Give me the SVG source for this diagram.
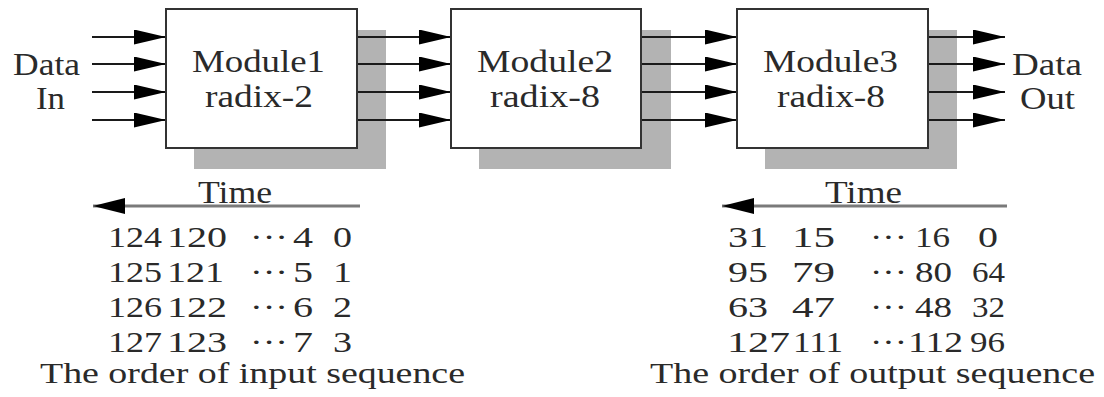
<svg xmlns="http://www.w3.org/2000/svg" width="1104" height="397" viewBox="0 0 1104 397">
<style>
text{font-family:"Liberation Serif","Times New Roman",serif;fill:#2a2a2a}
.lbl{font-size:32px}
.num{font-size:30px}
.shadow{fill:#b3b3b3}
.box{fill:#fff;stroke:#333;stroke-width:2}
.conn{stroke:#1a1a1a;stroke-width:2;fill:none}
.time{stroke:#7a7a7a;stroke-width:3;fill:none}
</style>
<defs>
<marker id="ah" markerUnits="userSpaceOnUse" markerWidth="32" markerHeight="15" refX="32" refY="7.5" orient="auto">
<path d="M0,0 L32,7.5 L0,15 Z" fill="#000"/>
</marker>
<marker id="th" markerUnits="userSpaceOnUse" markerWidth="32" markerHeight="16" refX="32" refY="8" orient="auto">
<path d="M0,0 L32,8 L0,16 Z" fill="#000"/>
</marker>
</defs>
<rect width="1104" height="397" fill="#fff"/>

<g id="shadows">
<rect class="shadow" x="194" y="30" width="192" height="139"/>
<rect class="shadow" x="479" y="30" width="192" height="139"/>
<rect class="shadow" x="765" y="30" width="192" height="139"/>
</g>

<g id="connectors">
<line class="conn" x1="92" y1="37" x2="166" y2="37" marker-end="url(#ah)"/>
<line class="conn" x1="92" y1="64" x2="166" y2="64" marker-end="url(#ah)"/>
<line class="conn" x1="92" y1="92" x2="166" y2="92" marker-end="url(#ah)"/>
<line class="conn" x1="92" y1="120" x2="166" y2="120" marker-end="url(#ah)"/>
<line class="conn" x1="357" y1="37" x2="451" y2="37" marker-end="url(#ah)"/>
<line class="conn" x1="357" y1="64" x2="451" y2="64" marker-end="url(#ah)"/>
<line class="conn" x1="357" y1="92" x2="451" y2="92" marker-end="url(#ah)"/>
<line class="conn" x1="357" y1="120" x2="451" y2="120" marker-end="url(#ah)"/>
<line class="conn" x1="641" y1="37" x2="737" y2="37" marker-end="url(#ah)"/>
<line class="conn" x1="641" y1="64" x2="737" y2="64" marker-end="url(#ah)"/>
<line class="conn" x1="641" y1="92" x2="737" y2="92" marker-end="url(#ah)"/>
<line class="conn" x1="641" y1="120" x2="737" y2="120" marker-end="url(#ah)"/>
<line class="conn" x1="928" y1="37" x2="1005" y2="37" marker-end="url(#ah)"/>
<line class="conn" x1="928" y1="64" x2="1005" y2="64" marker-end="url(#ah)"/>
<line class="conn" x1="928" y1="92" x2="1005" y2="92" marker-end="url(#ah)"/>
<line class="conn" x1="928" y1="120" x2="1005" y2="120" marker-end="url(#ah)"/>
<line class="time" x1="360" y1="206" x2="93" y2="206" marker-end="url(#th)"/>
<line class="time" x1="1007" y1="206" x2="722" y2="206" marker-end="url(#th)"/>
</g>

<g id="module1">
<rect class="box" x="166" y="9" width="191" height="139"/>
<text class="lbl" x="192" y="72" textLength="133" lengthAdjust="spacingAndGlyphs">Module1</text>
<text class="lbl" x="205" y="107" textLength="108" lengthAdjust="spacingAndGlyphs">radix-2</text>
</g>
<g id="module2">
<rect class="box" x="451" y="9" width="190" height="139"/>
<text class="lbl" x="477" y="72" textLength="136" lengthAdjust="spacingAndGlyphs">Module2</text>
<text class="lbl" x="490" y="107" textLength="110" lengthAdjust="spacingAndGlyphs">radix-8</text>
</g>
<g id="module3">
<rect class="box" x="737" y="9" width="191" height="139"/>
<text class="lbl" x="763" y="72" textLength="135" lengthAdjust="spacingAndGlyphs">Module3</text>
<text class="lbl" x="777" y="107" textLength="108" lengthAdjust="spacingAndGlyphs">radix-8</text>
</g>

<g id="data-in">
<text class="lbl" x="13" y="75" textLength="67" lengthAdjust="spacingAndGlyphs">Data</text>
<text class="lbl" x="36" y="109" textLength="29" lengthAdjust="spacingAndGlyphs">In</text>
</g>
<g id="data-out">
<text class="lbl" x="1012" y="75" textLength="70" lengthAdjust="spacingAndGlyphs">Data</text>
<text class="lbl" x="1020" y="109" textLength="55" lengthAdjust="spacingAndGlyphs">Out</text>
</g>

<g id="input-order">
<text class="lbl" x="198" y="203" textLength="74" lengthAdjust="spacingAndGlyphs">Time</text>
<g class="num">
<text x="108" y="247" textLength="54" lengthAdjust="spacingAndGlyphs">124</text>
<text x="167" y="247" textLength="60" lengthAdjust="spacingAndGlyphs">120</text>
<text x="250" y="247" textLength="38" lengthAdjust="spacingAndGlyphs">···</text>
<text x="293" y="247" textLength="20" lengthAdjust="spacingAndGlyphs">4</text>
<text x="333" y="247" textLength="19" lengthAdjust="spacingAndGlyphs">0</text>
<text x="108" y="282" textLength="54" lengthAdjust="spacingAndGlyphs">125</text>
<text x="167" y="282" textLength="57" lengthAdjust="spacingAndGlyphs">121</text>
<text x="250" y="282" textLength="38" lengthAdjust="spacingAndGlyphs">···</text>
<text x="293" y="282" textLength="20" lengthAdjust="spacingAndGlyphs">5</text>
<text x="333" y="282" textLength="19" lengthAdjust="spacingAndGlyphs">1</text>
<text x="108" y="317" textLength="54" lengthAdjust="spacingAndGlyphs">126</text>
<text x="167" y="317" textLength="60" lengthAdjust="spacingAndGlyphs">122</text>
<text x="250" y="317" textLength="38" lengthAdjust="spacingAndGlyphs">···</text>
<text x="293" y="317" textLength="20" lengthAdjust="spacingAndGlyphs">6</text>
<text x="333" y="317" textLength="19" lengthAdjust="spacingAndGlyphs">2</text>
<text x="108" y="352" textLength="54" lengthAdjust="spacingAndGlyphs">127</text>
<text x="167" y="352" textLength="60" lengthAdjust="spacingAndGlyphs">123</text>
<text x="250" y="352" textLength="38" lengthAdjust="spacingAndGlyphs">···</text>
<text x="293" y="352" textLength="20" lengthAdjust="spacingAndGlyphs">7</text>
<text x="333" y="352" textLength="19" lengthAdjust="spacingAndGlyphs">3</text>
</g>
<text class="num" x="40" y="383" textLength="425" lengthAdjust="spacingAndGlyphs">The order of input sequence</text>
</g>

<g id="output-order">
<text class="lbl" x="825" y="203" textLength="77" lengthAdjust="spacingAndGlyphs">Time</text>
<g class="num">
<text x="728" y="247" textLength="40" lengthAdjust="spacingAndGlyphs">31</text>
<text x="792" y="247" textLength="43" lengthAdjust="spacingAndGlyphs">15</text>
<text x="870" y="247" textLength="37" lengthAdjust="spacingAndGlyphs">···</text>
<text x="915" y="247" textLength="35" lengthAdjust="spacingAndGlyphs">16</text>
<text x="978" y="247" textLength="20" lengthAdjust="spacingAndGlyphs">0</text>
<text x="728" y="282" textLength="40" lengthAdjust="spacingAndGlyphs">95</text>
<text x="792" y="282" textLength="43" lengthAdjust="spacingAndGlyphs">79</text>
<text x="870" y="282" textLength="37" lengthAdjust="spacingAndGlyphs">···</text>
<text x="915" y="282" textLength="37" lengthAdjust="spacingAndGlyphs">80</text>
<text x="972" y="282" textLength="33" lengthAdjust="spacingAndGlyphs">64</text>
<text x="728" y="317" textLength="40" lengthAdjust="spacingAndGlyphs">63</text>
<text x="792" y="317" textLength="43" lengthAdjust="spacingAndGlyphs">47</text>
<text x="870" y="317" textLength="37" lengthAdjust="spacingAndGlyphs">···</text>
<text x="915" y="317" textLength="37" lengthAdjust="spacingAndGlyphs">48</text>
<text x="972" y="317" textLength="33" lengthAdjust="spacingAndGlyphs">32</text>
<text x="727" y="352" textLength="63" lengthAdjust="spacingAndGlyphs">127</text>
<text x="793" y="352" textLength="50" lengthAdjust="spacingAndGlyphs">111</text>
<text x="870" y="352" textLength="37" lengthAdjust="spacingAndGlyphs">···</text>
<text x="908" y="352" textLength="55" lengthAdjust="spacingAndGlyphs">112</text>
<text x="970" y="352" textLength="35" lengthAdjust="spacingAndGlyphs">96</text>
</g>
<text class="num" x="650" y="383" textLength="445" lengthAdjust="spacingAndGlyphs">The order of output sequence</text>
</g>
</svg>
